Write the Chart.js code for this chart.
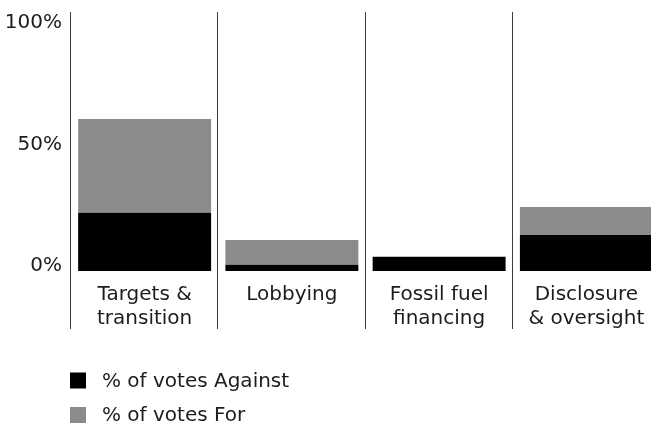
<!DOCTYPE html>
<html lang="en">
<head>
  <meta charset="UTF-8">
  <title>Climate votes</title>
  <style>
    html, body { margin: 0; padding: 0; background: #fff; overflow: hidden; }
    #wrap { width: 660px; height: 425px; }
  </style>
</head>
<body>
  <div id="wrap">
    <canvas id="myChart" width="660" height="425"></canvas>
  </div>

  <script src="https://cdn.jsdelivr.net/npm/chart.js"></script>

  <script>
    const categories = [
      ['Targets &', 'transition'],
      ['Lobbying'],
      ['Fossil fuel', 'financing'],
      ['Disclosure', '& oversight']
    ];
    const votesAgainst = [24, 2.6, 5.9, 14.8];
    const votesFor = [38.6, 10.2, 0, 11.5];
    const yTicks = [0, 50, 100];

    const FONT = '"DejaVu Sans", sans-serif';
    const TEXT = '#1c1c1c';

    // vertical rules between the categories, running down through the labels
    const separators = {
      id: 'separators',
      afterDraw(chart) {
        const { ctx, chartArea } = chart;
        const x = chart.scales.x;
        const n = categories.length;
        const step = x.width / n;
        ctx.save();
        ctx.strokeStyle = '#3c3c3c';
        ctx.lineWidth = 1;
        for (let i = 0; i <= n; i++) {
          const px = Math.round(x.left + i * step) - 0.5;
          ctx.beginPath();
          ctx.moveTo(px, chartArea.top);
          ctx.lineTo(px, chartArea.bottom + 58);
          ctx.stroke();
        }
        ctx.restore();
      }
    };

    // stacked legend under the chart
    const stackedLegend = {
      id: 'stackedLegend',
      afterDraw(chart) {
        const { ctx } = chart;
        const left = chart.scales.x.left - 1;
        ctx.save();
        ctx.font = '20px ' + FONT;
        ctx.textBaseline = 'middle';
        chart.data.datasets.forEach((ds, i) => {
          const cy = 380.5 + i * 34.5;
          ctx.fillStyle = ds.backgroundColor;
          ctx.fillRect(left, cy - 8, 16, 16);
          ctx.fillStyle = TEXT;
          ctx.fillText(ds.label, left + 32, cy + 1);
        });
        ctx.restore();
      }
    };

    const ctx = document.getElementById('myChart').getContext('2d');

    new Chart(ctx, {
      type: 'bar',
      data: {
        labels: categories,
        datasets: [
          {
            label: '% of votes Against',
            data: votesAgainst,
            backgroundColor: '#000000',
            barPercentage: 0.903,
            categoryPercentage: 1
          },
          {
            label: '% of votes For',
            data: votesFor,
            backgroundColor: '#8a8b8a',
            barPercentage: 0.903,
            categoryPercentage: 1
          }
        ]
      },
      plugins: [separators, stackedLegend],
      options: {
        responsive: false,
        animation: false,
        layout: { padding: { top: 12, left: 0, right: 0, bottom: 0 } },
        plugins: {
          legend: { display: false },
          tooltip: { enabled: false }
        },
        scales: {
          x: {
            stacked: true,
            grid: { display: false, drawTicks: false },
            border: { display: false },
            ticks: {
              color: TEXT,
              padding: 12.5,
              maxRotation: 0,
              autoSkip: false,
              font: { family: FONT, size: 20, lineHeight: 1.17 }
            },
            afterFit(scale) {
              scale.height = 154;
              scale.paddingLeft = 0;
              scale.paddingRight = 0;
            }
          },
          y: {
            stacked: true,
            min: 0,
            max: 106.6,
            afterBuildTicks(scale) {
              scale.ticks = yTicks.map(v => ({ value: v }));
            },
            grid: { display: false, drawTicks: false },
            border: { display: false },
            ticks: {
              color: TEXT,
              padding: 9,
              labelOffset: -5,
              font: { family: FONT, size: 20 },
              callback: v => v + '%'
            },
            afterFit(scale) {
              scale.width = 71;
              scale.paddingTop = 0;
              scale.paddingBottom = 0;
            }
          }
        }
      }
    });
  </script>
</body>
</html>
